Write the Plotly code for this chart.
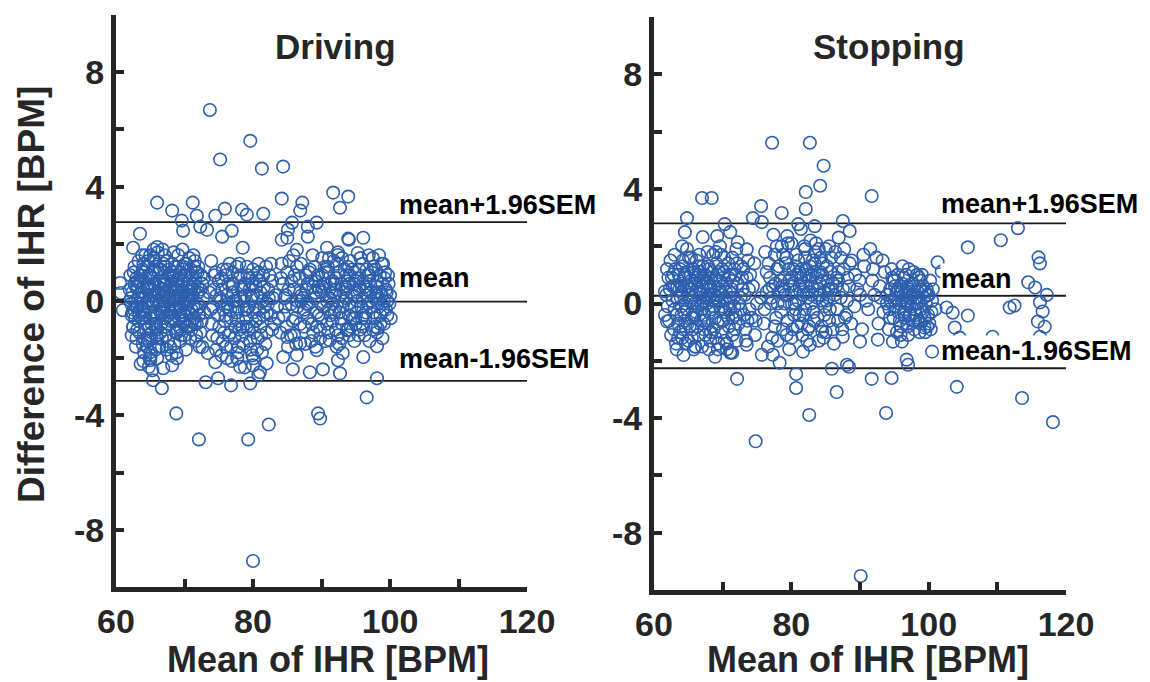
import plotly.graph_objects as go

# ---------------- data ----------------
panel_titles = ["Driving", "Stopping"]
x_title = "Mean of IHR [BPM]"
y_title = "Difference of IHR [BPM]"
line_labels = ["mean+1.96SEM", "mean", "mean-1.96SEM"]

# [upper, mean, lower]
driving_lines = [2.76, -0.02, -2.79]
stopping_lines = [2.80, 0.27, -2.26]

x_tickvals = [60, 70, 80, 90, 100, 110, 120]
x_ticktext = ["60", "", "80", "", "100", "", "120"]
y_tickvals = [-10, -8, -6, -4, -2, 0, 2, 4, 6, 8, 10]
y_ticktext = ["", "-8", "", "-4", "", "0", "", "4", "", "8", ""]

driving_x = [
    62.0, 62.3, 62.6, 62.9, 63.1, 63.4, 63.7, 64.0, 64.2, 64.5,
    64.8, 65.0, 65.3, 65.5, 65.8, 66.0, 66.3, 66.5, 66.8, 67.0,
    67.3, 67.5, 67.8, 68.0, 68.3, 68.5, 68.8, 69.0, 69.3, 69.5,
    69.8, 70.0, 70.3, 70.5, 70.8, 71.0, 71.3, 71.5, 71.8, 72.0,
    72.3, 72.6, 72.9, 63.0, 64.1, 65.1, 66.1, 67.1, 68.1, 69.1,
    62.5, 63.6, 64.6, 65.6, 66.6, 67.6, 68.6, 69.6, 70.6, 71.6,
    62.2, 63.3, 64.4, 65.4, 66.4, 67.4, 68.4, 69.4, 70.4, 71.4,
    63.8, 64.9, 65.9, 66.9, 67.9, 68.9, 69.9, 70.9, 71.9, 72.7,
    62.7, 63.5, 64.3, 65.2, 66.2, 67.2, 68.2, 69.2, 70.2, 71.2,
    65.7, 66.7, 67.7, 68.7, 69.7, 70.7, 63.9, 64.7, 71.7, 72.5,
    62.4, 63.2, 64.0, 65.0, 66.0, 67.0, 68.0, 69.0, 70.0, 71.0,
    62.9, 63.9, 64.9, 65.9, 66.9, 67.9, 68.9, 69.9, 70.9, 71.9,
    73.6, 74.0, 74.4, 74.8, 75.2, 75.6, 76.0, 76.4, 76.8, 77.2,
    77.6, 78.0, 78.4, 78.8, 79.2, 79.6, 80.0, 80.4, 80.8, 81.2,
    81.6, 82.0, 82.4, 82.8, 74.2, 75.0, 75.8, 76.6, 77.4, 78.2,
    79.0, 79.8, 80.6, 81.4, 82.2, 74.6, 75.4, 76.2, 77.0, 77.8,
    78.6, 79.4, 80.2, 81.0, 81.8, 76.9, 78.1, 79.9, 80.5, 75.7,
    83.3, 83.7, 84.1, 73.9, 77.9, 79.1, 80.9, 82.6, 76.3, 78.5,
    84.5, 85.0, 85.5, 86.0, 86.5, 87.0, 87.5, 88.0, 88.5, 89.0,
    89.5, 90.0, 90.5, 91.0, 91.5, 92.0, 92.5, 93.0, 93.5, 94.0,
    94.5, 95.0, 95.5, 96.0, 96.5, 97.0, 97.5, 98.0, 98.5, 99.0,
    99.5, 99.8, 84.8, 85.8, 86.8, 87.8, 88.8, 89.8, 90.8, 91.8,
    92.8, 93.8, 94.8, 95.8, 96.8, 97.8, 98.8, 85.3, 86.3, 87.3,
    88.3, 89.3, 90.3, 91.3, 92.3, 93.3, 94.3, 95.3, 96.3, 97.3,
    98.3, 99.3, 90.6, 91.6, 92.6, 93.6, 94.6, 95.6, 96.6, 97.6,
    98.6, 99.6, 88.6, 89.6, 84.2, 86.9, 91.2, 93.2, 95.2, 97.2,
    89.1, 90.1, 92.1, 94.1, 96.1, 98.1, 99.1, 87.6, 85.6, 93.9,
    62.1, 62.8, 63.4, 64.1, 64.7, 65.3, 66.0, 66.6, 67.3, 67.9,
    68.5, 69.2, 69.8, 70.5, 71.1, 71.8, 72.4, 62.6, 63.3, 63.9,
    64.6, 65.2, 65.9, 66.5, 67.2, 67.8, 68.5, 69.1, 69.8, 70.4,
    71.0, 71.7, 72.3, 62.3, 63.0, 63.7, 64.3, 65.0, 65.6, 66.3,
    66.9, 67.6, 68.2, 68.9, 69.5, 70.2, 70.8, 71.5, 72.1, 72.8,
    62.7, 63.4, 64.2, 64.9, 65.7, 66.4, 67.1, 67.9, 68.6, 69.3,
    70.0, 70.7, 71.4, 72.2, 63.1, 64.5, 65.8, 67.4, 68.8, 70.1,
    71.3, 66.8, 65.5, 64.0, 62.2, 68.4, 69.7, 67.0, 66.2, 63.6,
    64.4, 65.3, 66.5, 67.6, 68.7, 69.9, 71.0, 72.0, 64.8, 66.0,
    62.9, 63.8, 65.1, 67.7, 69.4, 70.6, 71.9, 68.1, 66.7, 64.6,
    73.8, 74.3, 74.9, 75.4, 76.0, 76.5, 77.1, 77.6, 78.2, 78.7,
    79.3, 79.8, 80.4, 80.9, 81.5, 82.0, 82.6, 74.5, 75.6, 76.7,
    77.8, 78.9, 80.0, 81.1, 82.2, 75.1, 76.2, 77.3, 78.4, 79.5,
    80.6, 81.7, 82.8, 74.1, 76.0, 77.9, 79.7, 81.3, 80.1, 78.0,
    75.3, 77.0, 79.1, 81.9, 83.5, 84.0, 76.8, 78.8, 80.8, 82.9,
    84.3, 84.9, 85.6, 86.2, 86.9, 87.5, 88.2, 88.8, 89.5, 90.1,
    90.8, 91.4, 92.1, 92.7, 93.4, 94.0, 94.7, 95.3, 96.0, 96.6,
    97.3, 97.9, 98.6, 99.2, 99.9, 85.1, 86.4, 87.7, 89.0, 90.3,
    91.6, 92.9, 94.2, 95.5, 96.8, 98.1, 99.4, 88.0, 90.0, 92.0,
    94.0, 96.0, 98.0, 100.0, 91.0, 93.0, 95.0, 97.0, 99.0, 89.8,
    86.5, 87.9, 85.9, 89.4, 93.5, 95.9, 97.5, 98.9, 91.9, 94.4,
    84.7, 86.0, 88.7, 90.5, 92.4, 95.7, 97.7, 99.7, 93.0, 96.3,
    89.1, 91.1, 94.9, 96.9, 98.4, 100.1, 87.0, 85.2, 92.2, 98.8,
    63.2, 63.9, 64.7, 65.4, 66.2, 66.9, 67.7, 68.4, 69.2, 69.9,
    70.7, 71.4, 63.6, 64.3, 65.1, 65.8, 66.6, 67.3, 68.1, 68.8,
    69.6, 70.3, 71.1, 62.4, 63.1, 64.8, 66.3, 67.9, 69.4, 71.6,
    64.0, 65.6, 67.2, 68.6, 70.0, 62.8, 66.0, 69.0, 72.2, 65.0,
    75.5, 76.3, 77.1, 77.9, 78.7, 79.5, 80.3, 81.1, 75.9, 77.5,
    79.1, 80.7, 82.3, 76.7, 78.3, 79.9, 81.5, 74.7, 83.1, 80.0,
    87.1, 88.1, 89.1, 90.1, 91.1, 92.1, 93.1, 94.1, 95.1, 96.1,
    97.1, 98.1, 99.1, 88.6, 89.6, 90.6, 91.6, 92.6, 93.6, 94.6,
    95.6, 96.6, 97.6, 98.6, 99.6, 86.1, 87.4, 93.9, 96.4, 98.9,
    90.9, 92.4, 94.8, 97.0, 99.4, 89.9, 91.9, 95.4, 97.9, 84.6,
    # outliers
    73.7, 79.6, 75.2, 81.3, 84.4, 91.7, 93.9, 92.7, 84.2, 87.2,
    86.9, 66.0, 71.2, 68.2, 71.8, 69.6, 74.5, 75.9, 78.4, 79.1,
    81.5, 85.7, 89.3, 88.0, 85.1, 72.3, 73.3, 69.8, 76.9, 75.5,
    63.5, 62.5, 66.0, 84.2, 85.0, 88.0, 93.9, 96.1, 78.5, 90.8,
    86.4, 92.4, 95.3, 60.6, 60.7, 61.0, 94.0,
    68.8, 72.1, 79.3, 82.3, 89.5, 89.8, 96.6, 80.0, 98.1, 96.1,
    98.1, 98.2, 66.7, 65.4, 73.1, 76.8, 79.6, 80.8, 74.9, 92.7,
    90.2, 88.3, 85.8, 84.4, 86.4, 82.0, 68.9, 68.2, 66.9, 65.3,
    65.0, 65.0, 64.2, 62.5, 72.6, 73.4, 74.5, 76.2, 77.7, 78.8,
    80.0, 81.0, 92.4, 93.1, 89.3, 86.9, 85.0, 93.7, 91.2,
]
driving_y = [
    0.4, -0.5, 1.0, -0.2, 0.7, -1.1, 0.1, 1.3, -0.6, 0.5,
    -1.4, 0.9, -0.1, 1.5, -0.9, 0.3, -1.6, 1.1, -0.4, 0.6,
    -1.2, 1.4, 0.0, -0.7, 0.8, -1.5, 0.4, 1.2, -0.3, -1.0,
    0.7, -0.5, 1.3, 0.2, -1.3, 0.9, -0.2, 1.4, -0.8, 0.3,
    -1.1, 0.6, -0.4, -1.3, -1.8, -1.9, 1.7, 1.6, -1.9, 1.6,
    -0.9, 0.9, 0.0, 0.6, -0.8, -0.3, -0.2, 0.5, -0.9, 0.7,
    0.1, -0.7, -1.0, -0.5, 0.0, 0.3, 1.0, -1.4, 0.6, -0.6,
    0.3, 0.5, -1.2, 1.3, -1.6, 0.1, -0.1, 1.1, 1.0, 0.1,
    1.2, -0.3, 0.8, -0.8, 1.0, -0.9, 0.6, -0.6, -1.7, 0.2,
    0.2, -1.3, 0.9, -1.1, 1.1, 1.5, -1.5, 1.4, -1.4, -0.7,
    -0.4, 0.5, -0.3, 0.2, -0.5, 0.0, -0.4, 0.2, 0.0, -0.3,
    -1.6, 1.1, -2.0, 1.2, 0.4, 0.5, -1.1, -0.8, 0.4, -0.1,
    0.3, -0.8, 0.9, -1.3, 0.1, 1.1, -0.5, 0.6, -1.6, 0.0,
    1.2, -1.0, 0.4, -0.3, 0.9, -1.4, 0.2, -0.7, 1.0, -1.2,
    0.5, -0.4, 0.9, -1.0, -0.2, 0.7, -1.1, 1.3, -0.9, 0.1,
    -0.6, 0.6, -1.7, 0.0, -0.1, -1.7, -1.9, 0.2, 0.5, -1.8,
    -1.5, -0.2, -1.1, 0.7, -1.5, -2.1, -2.3, -1.9, 0.8, -0.3,
    0.2, -0.6, 0.8, 1.4, 0.8, 1.2, -0.3, 1.3, -0.1, -0.9,
    -0.5, 1.0, -1.2, 0.4, -0.2, 1.3, -0.9, 0.6, -1.4, 0.1,
    0.9, -0.6, 1.2, -1.1, 0.3, -0.3, 1.0, -1.3, 0.5, -0.1,
    1.1, -0.8, 0.4, 1.3, -0.4, 0.7, -1.0, 0.2, 0.9, -0.3,
    0.3, 0.6, 0.2, -0.7, 0.8, -0.1, 0.5, -1.0, 0.0, 1.4,
    -0.6, 1.2, -1.4, -0.2, 0.9, -0.6, 1.3, 1.4, -1.5, 0.1,
    1.1, -0.4, 0.6, -0.5, 1.3, 0.0, -0.9, 0.8, -1.2, 1.0,
    -0.1, 1.0, -1.4, 0.7, -1.5, 0.9, 0.2, -1.0, 0.4, -0.4,
    -0.8, -0.5, -0.8, 0.4, 1.3, -0.8, 0.1, 0.3, 0.0, 0.3,
    -1.6, 1.5, 0.8, 0.6, -0.5, 0.5, 0.0, -1.5, -0.1, -1.0,
    0.9, 0.0, -0.5, 0.6, -0.2, 1.0, -1.0, 0.4, 0.8, -0.1,
    0.3, -0.9, 1.2, -0.1, 0.5, -0.3, 0.9, -0.3, 1.4, -0.6,
    1.2, -1.1, 0.0, -0.4, 0.2, 1.1, -0.7, 0.8, -0.4, 0.9,
    -1.0, -1.2, 0.4, -1.2, 0.8, -0.1, 1.6, -0.6, 1.4, 0.7,
    -0.2, -1.4, 1.3, 0.7, -1.2, 0.1, 0.2, -0.8, -0.5, 0.8,
    0.6, 0.2, -0.8, 0.9, -0.4, 1.1, -0.6, 0.4, 0.0, -0.2,
    -1.2, 0.5, 1.2, -1.6, -1.0, -1.6, -1.7, -1.7, -1.8, 1.3,
    1.6, 1.8, 1.8, -2.1, -0.1, 1.7, 1.8, 0.7, 0.2, -2.2,
    0.2, 0.4, -1.1, -0.8, 0.4, 0.3, -0.5, 1.2, -2.3, -2.0,
    0.5, 1.6, -1.3, 0.1, 1.0, -0.4, 0.5, -0.6, -1.6, -1.3,
    -0.3, 0.4, -0.5, 0.8, 0.9, -1.2, 0.3, -0.4, 0.9, 0.5,
    -1.0, 0.1, 0.5, -0.6, 0.9, -1.1, -0.5, 1.0, -1.4, -1.1,
    -0.2, 0.2, -0.4, -0.9, 0.4, -0.9, 1.1, -1.3, -1.2, 0.8,
    0.2, -0.2, 0.7, -1.2, -1.6, -1.6, -1.7, -1.8, -2.0, 1.3,
    0.0, 1.0, -0.9, 1.2, -0.2, -1.1, -0.6, 0.6, 1.3, 0.1,
    0.6, -0.9, 0.7, -0.6, 0.3, -0.3, 1.0, -1.1, 0.5, 0.9,
    -0.8, 0.6, -1.0, 0.2, 1.1, -0.5, 0.6, 0.3, -0.9, 1.1,
    0.0, 1.1, -0.5, 0.8, -0.1, -1.6, 1.2, 0.9, 1.2, -0.2,
    -0.1, 0.6, 1.4, 1.1, -0.1, -1.1, 0.4, -0.6, 0.3, 0.2,
    -1.2, 0.1, 0.3, 0.2, 1.0, -0.8, 0.7, -1.4, 1.3, -1.3,
    0.0, 0.4, 1.6, -0.9, 0.4, -0.6, 1.5, -1.3, -0.4, -0.2,
    -0.2, -1.2, 1.6, 0.6, 1.7, 1.5, 0.1, 0.9, 1.5, 0.5,
    0.7, 1.5, -0.6, 1.6, 1.6, -0.6, 0.0, 0.4, -1.6, 0.2,
    0.1, -0.4, 0.4, 0.0, 0.5, -0.1, -0.5, 0.1, 0.5, -0.7,
    0.0, 0.4, 0.7, -0.5, 0.8, -0.8, -0.3, 0.6, 0.9, -0.3,
    0.2, -0.9, -0.7, 0.3, -0.2, -0.9, 0.3, -0.4, -0.5, 1.0,
    1.0, 1.1, 1.2, 1.2, 0.9, -0.6, -1.3, -1.0, -0.2, 1.6,
    0.4, -0.2, 0.6, -0.7, 0.0, 0.4, -0.2, 0.3, -0.7, 0.0,
    -0.3, -1.3, 0.1, -0.3, 0.5, -0.9, -0.5, 0.2, -0.8, 1.1,
    0.2, -0.1, 0.3, 0.5, -0.3, 0.4, -0.2, 0.9, -0.4, 0.6,
    -0.2, 0.7, -0.8, 0.7, -0.5, 1.0, -0.7, -0.4, 0.1, -0.6,
    0.5, 0.2, 1.2, 0.3, 0.0, 0.9, -0.4, 0.7, -0.6, 0.6,
    1.2, -1.2, 1.0, 0.9, -0.3, -0.1, 0.6, -1.2, -0.9, 0.1,
    # outliers
    6.68, 5.6, 4.95, 4.63, 4.70, 3.79, 3.65, 3.26, 3.58, 3.44,
    3.16, 3.44, 3.44, 3.16, 2.98, 2.81, 2.98, 3.23, 3.19, 3.02,
    3.05, 2.74, 2.74, 2.6, 2.49, 2.6, 2.49, 2.46, 2.46, 2.25,
    2.35, 1.86, 1.89, 2.14, 2.21, 2.25, 2.18, 2.21, 1.86, 1.86,
    1.79, 1.61, 1.68, 0.63, 0.28, -0.32, 2.14,
    -3.93, -4.84, -4.84, -4.32, -3.93, -4.11, -3.37, -9.09, -2.70, -1.96,
    -1.58, -0.95, -3.05, -2.77, -2.84, -2.95, -2.88, -2.60, -2.70, -2.53,
    -2.39, -2.49, -2.39, -1.96, -1.89, -2.18, -2.0, -2.25, -2.35, -2.42,
    -2.07, -1.79, -1.37, -0.91, -1.61, -1.82, -2.14, -2.0, -2.0, -2.32,
    -2.25, -2.49, -2.07, -1.82, -1.72, -1.47, -1.26, -1.02, -1.37,
]

stopping_x = [
    61.8, 62.2, 62.6, 63.0, 63.4, 63.8, 64.2, 64.6, 65.0, 65.4,
    65.8, 66.2, 66.6, 67.0, 67.4, 67.8, 68.2, 68.6, 69.0, 69.4,
    69.8, 70.2, 70.6, 71.0, 71.4, 71.8, 72.2, 72.6, 73.0, 73.4,
    73.8, 74.2, 74.6, 75.0, 62.4, 63.2, 64.0, 64.8, 65.6, 66.4,
    67.2, 68.0, 68.8, 69.6, 70.4, 71.2, 72.0, 72.8, 73.6, 63.6,
    64.4, 65.2, 66.0, 66.8, 67.6, 68.4, 69.2, 70.0, 70.8, 71.6,
    62.9, 63.9, 64.9, 65.9, 66.9, 67.9, 68.9, 69.9, 70.9, 71.9,
    65.3, 66.3, 67.3, 68.3, 69.3, 70.3, 64.3, 66.7, 68.7, 72.4,
    62.0, 63.0, 64.5, 65.5, 67.5, 69.5, 71.5, 73.2, 74.7, 61.6,
    66.1, 67.1, 68.1, 69.1, 70.1, 71.1, 65.1, 64.1, 63.5, 74.0,
    75.6, 76.0, 76.4, 76.8, 77.2, 77.6, 78.0, 78.4, 78.8, 79.2,
    79.6, 80.0, 80.4, 80.8, 81.2, 81.6, 82.0, 82.4, 82.8, 83.2,
    83.6, 84.0, 84.4, 84.8, 85.2, 85.6, 86.0, 86.4, 86.8, 87.2,
    87.6, 88.0, 88.4, 88.8, 89.2, 89.6, 76.2, 77.0, 77.8, 78.6,
    79.4, 80.2, 81.0, 81.8, 82.6, 83.4, 84.2, 85.0, 85.8, 86.6,
    87.4, 88.2, 79.0, 80.6, 82.2, 83.8, 85.4, 77.4, 81.4, 84.6,
    80.0, 81.0, 82.0, 83.0, 84.0, 79.6, 78.2, 86.2, 87.8, 76.6,
    80.5, 82.5, 84.5, 81.5, 83.5, 78.9, 85.5, 86.9, 77.7, 79.7,
    90.0, 90.6, 91.2, 91.8, 92.4, 93.0, 93.6, 90.3, 91.5, 92.7,
    94.0, 94.4, 94.8, 95.2, 95.6, 96.0, 96.4, 96.8, 97.2, 97.6,
    98.0, 98.4, 98.8, 99.2, 99.6, 100.0, 100.4, 94.6, 95.4, 96.2,
    97.0, 97.8, 98.6, 99.4, 100.2, 95.0, 96.6, 98.2, 99.8, 97.4,
    96.0, 97.0, 98.0, 95.8, 94.2, 99.0, 100.6, 93.4, 101.0, 96.9,
    62.1, 62.7, 63.3, 63.9, 64.5, 65.1, 65.7, 66.3, 66.9, 67.5,
    68.1, 68.7, 69.3, 69.9, 70.5, 71.1, 71.7, 72.3, 72.9, 73.5,
    62.5, 63.1, 63.7, 64.3, 64.9, 65.5, 66.1, 66.7, 67.3, 67.9,
    68.5, 69.1, 69.7, 70.3, 70.9, 71.5, 72.1, 72.7, 73.3, 73.9,
    62.3, 63.5, 64.7, 65.9, 67.1, 68.3, 69.5, 70.7, 71.9, 73.1,
    63.0, 64.2, 65.4, 66.6, 67.8, 69.0, 70.2, 71.4, 72.6, 74.4,
    63.3, 64.6, 65.8, 67.0, 68.2, 69.4, 70.6, 66.4, 65.0, 67.7,
    64.0, 66.0, 68.0, 70.0, 72.0, 74.8, 61.9, 69.8, 71.3, 73.7,
    76.1, 76.7, 77.3, 77.9, 78.5, 79.1, 79.7, 80.3, 80.9, 81.5,
    82.1, 82.7, 83.3, 83.9, 84.5, 85.1, 85.7, 86.3, 86.9, 87.5,
    88.1, 88.7, 89.3, 76.4, 77.6, 78.8, 80.0, 81.2, 82.4, 83.6,
    84.8, 86.0, 87.2, 79.5, 80.7, 81.9, 83.1, 84.3, 85.5, 86.7,
    77.1, 78.3, 79.3, 80.5, 81.7, 82.9, 84.1, 85.3, 86.5, 87.7,
    79.0, 81.1, 83.0, 85.0, 78.0, 82.3, 84.7, 80.2, 76.9, 88.5,
    89.9, 90.9, 91.9, 92.9, 93.9, 90.5, 92.1, 93.3, 94.5, 95.1,
    95.7, 96.3, 96.9, 97.5, 98.1, 98.7, 99.3, 99.9, 100.5, 94.3,
    95.3, 96.5, 97.7, 98.9, 100.1, 94.9, 96.1, 97.3, 98.5, 99.7,
    95.9, 97.1, 98.3, 99.5, 94.7, 96.7, 98.7, 100.3, 97.9, 95.5,
    63.4, 64.1, 64.8, 65.5, 66.2, 66.9, 67.6, 68.3, 69.0, 69.7,
    70.4, 71.1, 63.8, 64.5, 65.2, 65.9, 66.6, 67.3, 68.0, 68.7,
    69.4, 70.1, 70.8, 62.7, 64.0, 65.7, 67.2, 68.9, 71.7, 66.0,
    79.8, 80.6, 81.4, 82.2, 83.0, 83.8, 84.6, 85.4, 81.8, 83.4,
    80.1, 81.7, 82.6, 84.2, 85.9, 78.7, 79.3, 86.8, 82.0, 84.9,
    95.2, 95.8, 96.4, 97.0, 97.6, 98.2, 98.8, 99.4, 96.1, 97.9,
    95.6, 96.8, 98.4, 99.1, 94.4, 97.3, 99.8, 95.0, 96.9, 98.6,
    # outliers
    77.2, 82.7, 84.7, 84.2, 82.1, 82.1, 91.7, 67.0, 68.4, 64.8,
    75.6, 78.6, 74.4, 75.7, 70.3, 81.0, 83.4, 87.5, 88.5, 105.7,
    110.5, 113.0, 116.0, 116.2, 114.5, 115.5, 117.2, 64.1, 64.5, 69.2,
    67.1, 72.2, 71.1, 73.5, 77.9, 79.4, 61.6, 62.8, 101.3, 101.9,
    111.8, 112.5, 116.2, 116.6, 115.9, 116.9, 116.2, 102.6, 103.5, 105.7,
    103.8, 104.5, 109.3, 100.5, 104.1, 113.6, 118.1, 72.1, 74.8, 80.7,
    80.7, 82.6, 85.9, 86.6, 88.1, 88.4, 91.7, 93.8, 94.6, 96.8,
    97.0, 90.1, 99.4, 68.9, 66.0, 71.1, 73.5, 75.7, 78.3, 77.3,
    81.7, 82.7, 92.6, 94.8, 96.1, 90.0, 87.5, 84.5, 61.9, 71.4,
]
stopping_y = [
    0.3, -0.6, 0.9, -0.2, 0.6, -1.0, 1.3, 0.0, -1.3, 0.8,
    -0.4, 1.5, 0.2, -1.5, 1.0, -0.7, 0.5, 1.7, -1.2, 0.1,
    -0.6, 1.1, -1.4, 0.4, 1.6, -0.9, 0.7, -0.2, 1.2, -1.3,
    0.5, -0.5, 1.4, 0.0, 1.5, -1.4, 0.4, 1.9, -0.9, -1.1,
    0.9, -1.6, 0.3, 2.0, -0.3, -1.7, 1.9, 0.9, -0.6, 1.0,
    -0.3, 0.5, 0.7, -0.6, 0.2, -0.2, 1.0, 0.6, 1.4, 0.2,
    -0.9, 0.2, -0.7, 1.1, 0.4, 1.3, -0.5, -1.0, -0.8, -0.4,
    0.1, -0.1, -0.4, 0.9, -1.6, 0.2, -1.8, 1.1, -0.1, 0.0,
    -0.1, 0.6, 0.9, -0.5, -1.1, 0.5, 0.8, 0.3, -1.1, -0.4,
    0.4, 0.6, 0.6, 1.4, -0.6, -0.2, 1.6, -1.2, -1.2, 1.0,
    0.2, -0.7, 1.1, 0.5, -1.2, 1.7, 0.0, 0.8, -0.9, 1.4,
    0.3, 2.1, -0.4, 1.0, 0.6, -1.1, 1.6, 0.2, 2.2, -0.3,
    0.9, 1.9, -0.8, 0.4, 1.3, -0.2, 0.7, 1.8, -0.6, 0.2,
    1.2, -0.4, 0.6, 1.5, -0.1, 0.5, 1.8, 0.0, -0.5, 2.0,
    -0.6, 0.7, 1.5, 0.4, -0.8, 1.1, 0.3, -1.0, 1.6, 0.9,
    -0.9, 0.9, 0.9, -0.2, 1.0, -0.5, 0.5, 2.4, 2.6, 1.4,
    -1.2, 0.1, -0.2, 0.6, -1.3, 1.2, 1.3, -1.4, -0.5, -1.5,
    0.0, 0.4, 0.1, -0.7, 1.8, 0.5, 2.0, 2.3, 0.7, -1.6,
    0.3, 1.3, -0.2, 0.8, 1.6, 0.2, 1.1, -0.9, 1.9, -0.7,
    0.3, -0.5, 0.8, -0.1, 0.5, -0.8, 0.9, 0.1, -0.4, 0.7,
    -0.2, 0.4, -0.7, 0.6, 0.0, 0.3, -0.3, 1.2, -1.0, 1.3,
    -1.1, 1.1, 0.9, -0.5, 0.8, 0.1, -0.2, 0.0, -0.8, 0.2,
    0.4, 0.5, -0.6, -0.6, -0.9, 1.0, 0.5, -0.3, -0.2, -0.7,
    0.9, 0.1, -0.4, 0.7, -0.6, 0.3, 1.2, -0.8, 0.8, 0.3,
    -0.3, 0.6, -0.7, 1.2, 0.4, 1.0, -0.1, -0.7, 0.5, 0.9,
    -1.1, 1.2, 0.5, -0.9, 1.1, -1.2, -0.3, 0.4, -0.9, 0.7,
    1.1, 0.2, -0.2, -1.3, 0.9, -0.5, 1.4, 1.3, -0.9, -0.2,
    0.5, -0.7, 0.6, 0.0, 1.3, -1.0, 0.8, 0.0, 1.0, -0.4,
    1.7, 1.5, 1.6, 1.7, 1.8, 1.8, 1.6, -1.1, 0.2, 0.6,
    -1.6, -1.4, -1.6, -0.2, -1.3, -1.4, -1.6, 1.0, 0.6, 0.0,
    -0.1, -1.5, 0.2, -0.1, -1.3, -0.6, 1.2, 1.7, 0.5, 1.5,
    -0.2, 1.4, 0.6, 1.2, -0.3, 0.3, 0.8, 1.2, -0.8, 1.2,
    0.6, 1.3, -0.6, 0.5, 1.0, 0.1, 1.1, 0.3, 1.1, 0.5,
    0.1, -0.7, 1.0, 0.4, -0.8, 1.7, 0.9, -0.4, -0.9, 2.1,
    -0.4, -0.9, 1.6, 2.1, 1.7, 2.0, 1.5, 1.6, -0.6, -0.2,
    0.2, 0.4, -1.1, 0.4, 0.7, 0.0, 0.7, 0.8, 0.6, 1.9,
    0.0, 1.1, 0.3, 1.9, -1.3, -1.3, -1.2, -0.9, 0.9, 1.4,
    0.8, 0.1, 1.2, 0.6, 0.0, 1.7, 0.3, 1.5, 0.1, 0.6,
    0.0, 0.3, 0.6, -0.1, 0.2, 0.5, 0.2, -0.4, 0.1, -0.2,
    0.4, -0.5, -0.6, -0.2, -0.7, -0.5, 0.7, 0.4, 0.0, 0.5,
    -1.1, 1.2, 1.0, -1.0, 0.9, 1.0, -1.0, -0.9, -0.9, 1.0,
    0.2, 0.6, -0.2, 0.5, 0.9, 0.0, 0.7, 0.3, 0.8, 0.4,
    0.7, 0.2, 1.2, 1.0, -0.8, -0.5, 1.3, -0.6, 1.2, -0.9,
    1.1, 0.9, -0.5, 0.6, -0.4, 0.2, 0.1, 0.1, 1.2, 1.0,
    0.6, 1.3, 0.9, 1.2, 1.0, 0.2, 0.8, 0.2, -0.4, 1.4,
    0.0, 0.3, 0.8, 1.1, 0.5, 0.6, 1.6, 0.8, 1.9, -0.1,
    0.2, 0.6, -0.3, 0.0, 0.3, -0.4, 0.8, 0.4, 0.1, 0.6,
    -0.3, 0.4, 0.2, -0.3, 0.5, -0.4, 0.3, 0.8, -0.8, -0.6,
    # outliers
    5.61, 5.61, 4.81, 4.11, 3.89, 3.30, 3.75, 3.68, 3.68, 2.98,
    3.40, 3.16, 2.98, 2.84, 2.77, 2.77, 2.70, 2.88, 2.53, 1.96,
    2.21, 2.63, 1.61, 1.40, 0.74, 0.56, 0.30, 2.0, 2.49, 2.35,
    2.32, 2.14, 2.49, 1.89, 2.0, 2.35, 0.42, 1.02, 1.44, 1.12,
    -0.14, -0.07, 0.04, -0.28, -0.63, -0.81, -1.16, -0.14, -0.32, -0.42,
    -0.84, -1.19, -1.16, -1.68, -2.91, -3.30, -4.14, -2.63, -4.81, -2.46,
    -2.95, -3.89, -2.28, -3.09, -2.14, -2.21, -2.63, -3.82, -2.60, -1.96,
    -2.14, -9.51, -0.84, -1.86, -1.51, -1.72, -1.44, -1.79, -2.07, -1.79,
    -1.68, -1.44, -1.26, -1.33, -1.33, -1.33, -1.16, -0.98, -0.63, -1.72,
]

# ---------------- styling ----------------
MARKER_COLOR = "#2d5fae"
AXIS_COLOR = "#262626"
FONT = "Liberation Sans, Arial, sans-serif"

fig = go.Figure()

panels = [
    (driving_x, driving_y, driving_lines, "x", "y"),
    (stopping_x, stopping_y, stopping_lines, "x2", "y2"),
]

for px_, py_, lines, xa, ya in panels:
    for val in lines:
        fig.add_trace(go.Scatter(
            x=[60, 120], y=[val, val], mode="lines",
            line=dict(color="#1a1a1a", width=1.8),
            xaxis=xa, yaxis=ya, showlegend=False, hoverinfo="skip",
        ))
    fig.add_trace(go.Scatter(
        x=px_, y=py_, mode="markers",
        marker=dict(symbol="circle-open", size=12.5, color=MARKER_COLOR,
                    line=dict(width=1.6, color=MARKER_COLOR)),
        xaxis=xa, yaxis=ya, showlegend=False, cliponaxis=False,
    ))

axis_common = dict(
    showline=True, linewidth=5, linecolor=AXIS_COLOR, mirror=False,
    ticks="inside", ticklen=8, tickwidth=4, tickcolor=AXIS_COLOR,
    showgrid=False, zeroline=False, automargin=False,
    tickfont=dict(family=FONT, size=34, color=AXIS_COLOR, weight="bold"),
)

xaxis_common = dict(axis_common, range=[60, 120], tickmode="array",
                    tickvals=x_tickvals, ticktext=x_ticktext)
yaxis_common = dict(axis_common, range=[-10, 10], tickmode="array",
                    tickvals=y_tickvals, ticktext=y_ticktext)

W, H = 1150, 682
fig.update_layout(
    width=W, height=H,
    margin=dict(l=0, r=0, t=0, b=0, autoexpand=False),
    paper_bgcolor="white", plot_bgcolor="white",
    xaxis=dict(xaxis_common, domain=[116 / W, 527 / W], anchor="y"),
    yaxis=dict(yaxis_common, domain=[1 - 587 / H, 1 - 15 / H], anchor="x"),
    xaxis2=dict(xaxis_common, domain=[654 / W, 1066 / W], anchor="y2"),
    yaxis2=dict(yaxis_common, domain=[1 - 590 / H, 1 - 17 / H], anchor="x2"),
)

annotations = []
for title, cx, cy in [(panel_titles[0], 335, 47), (panel_titles[1], 889, 47)]:
    annotations.append(dict(
        text=title, x=cx / W, y=1 - cy / H, xref="paper", yref="paper",
        xanchor="center", yanchor="middle", showarrow=False,
        font=dict(family=FONT, size=35, color=AXIS_COLOR, weight="bold"),
    ))
for cx in (328, 868):
    annotations.append(dict(
        text=x_title, x=cx / W, y=1 - 659 / H, xref="paper", yref="paper",
        xanchor="center", yanchor="middle", showarrow=False,
        font=dict(family=FONT, size=36, color=AXIS_COLOR, weight="bold"),
    ))
annotations.append(dict(
    text=y_title, x=31 / W, y=1 - 295 / H, xref="paper", yref="paper",
    xanchor="center", yanchor="middle", showarrow=False, textangle=-90,
    font=dict(family=FONT, size=37, color=AXIS_COLOR, weight="bold"),
))
label_shifts = {"x": [1, 8, 6], "x2": [3, 1, 1]}
for xa, ya, lines, lx in [("x", "y", driving_lines, 101.2), ("x2", "y2", stopping_lines, 101.6)]:
    for lab, val, ys in zip(line_labels, lines, label_shifts[xa]):
        annotations.append(dict(
            text=lab, x=lx, y=val, xref=xa, yref=ya,
            xanchor="left", yanchor="bottom", yshift=ys, showarrow=False,
            bgcolor="white", borderpad=0,
            font=dict(family=FONT, size=27, color="black", weight="bold"),
        ))
fig.update_layout(annotations=annotations)

fig.write_html("out.html")
